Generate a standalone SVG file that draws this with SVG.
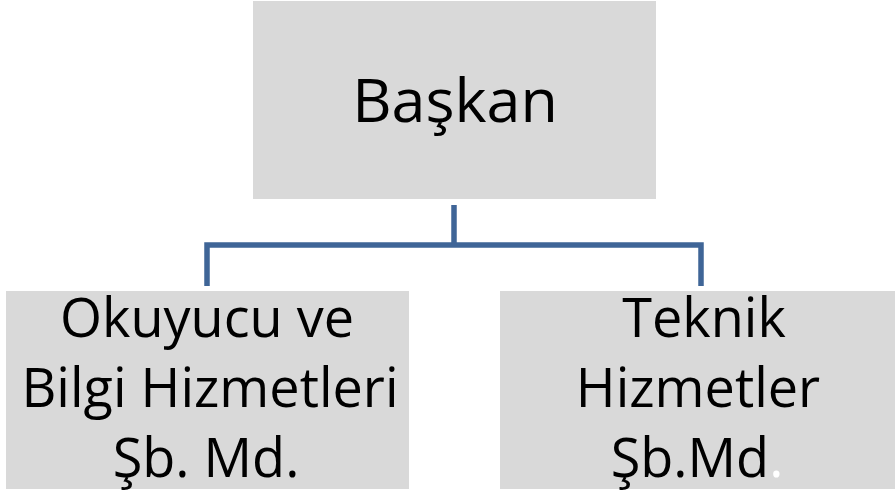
<svg xmlns="http://www.w3.org/2000/svg" width="895" height="495" viewBox="0 0 895 495">
<style>
.box{fill:#d9d9d9}
.t{font-family:"Open Sans","Liberation Sans",sans-serif;fill:#000;text-anchor:middle}
.big{font-size:61px}
.mid{font-size:54px}
.conn{fill:none;stroke:#3f6597;stroke-width:5.5}
</style>
<rect width="895" height="495" fill="#fff"/>
<g id="connectors">
<path class="conn" d="M207,286 V245 H701 V286"/>
<path class="conn" d="M454,205 V245"/>
</g>
<g id="baskan">
<rect class="box" x="253" y="1" width="403" height="198"/>
<text class="t big" x="455" y="122">Başkan</text>
</g>
<g id="okuyucu">
<rect class="box" x="6" y="291" width="403" height="198"/>
<text class="t mid" x="207" y="337">Okuyucu ve</text>
<text class="t mid" x="210" y="407">Bilgi Hizmetleri</text>
<text class="t mid" x="206" y="477">Şb. Md.</text>
</g>
<g id="teknik">
<rect class="box" x="500" y="291" width="395" height="198"/>
<text class="t mid" x="704" y="337">Teknik</text>
<text class="t mid" x="698" y="407">Hizmetler</text>
<text class="t mid" x="697" y="477">Şb.Md<tspan fill="#fff">.</tspan></text>
</g>
</svg>
